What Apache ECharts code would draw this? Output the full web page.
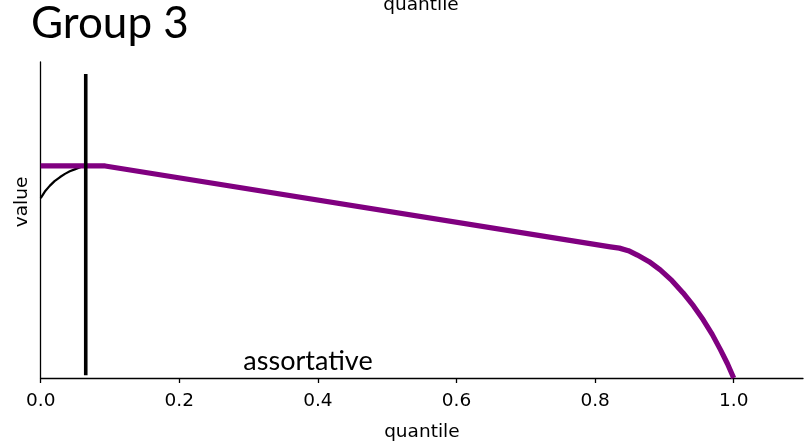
<!DOCTYPE html>
<html>
<head>
<meta charset="utf-8">
<script src="https://cdn.jsdelivr.net/npm/echarts@6/dist/echarts.min.js"></script>
<style>
  html, body { margin: 0; padding: 0; background: #fff; }
  #chart { width: 808px; height: 447px; }
</style>
</head>
<body>
<div id="chart"></div>
<script>
// Purple curve: [quantile, value]
const assortativeCurve = [
  [0.000, 0.671], [0.093, 0.671], [0.822, 0.415], [0.835, 0.411],
  [0.848, 0.403], [0.861, 0.389], [0.878, 0.368], [0.894, 0.342],
  [0.911, 0.308], [0.927, 0.269], [0.942, 0.228], [0.956, 0.184],
  [0.969, 0.138], [0.981, 0.089], [0.991, 0.045], [1.000, 0.000]
];
// Black rising curve near the origin
const baseCurve = [
  [0.000, 0.569], [0.006, 0.590], [0.013, 0.608], [0.020, 0.623],
  [0.028, 0.636], [0.035, 0.646], [0.042, 0.654], [0.050, 0.661],
  [0.057, 0.667], [0.065, 0.671]
];
// Vertical marker at the threshold quantile
const thresholdQuantile = 0.065;
const markerSpan = [0.009, 0.962];
// Axis ticks
const xTicks = [0.0, 0.2, 0.4, 0.6, 0.8, 1.0];

const chart = echarts.init(document.getElementById('chart'), null, { renderer: 'canvas' });

chart.setOption({
  animation: false,
  backgroundColor: '#ffffff',
  grid: { left: 40.7, right: 5, top: 62, bottom: 69, containLabel: false, outerBoundsMode: 'none' },
  xAxis: {
    type: 'value',
    min: 0,
    max: 1.1,
    interval: 0.2,
    name: 'quantile',
    nameLocation: 'middle',
    nameGap: 45,
    nameTextStyle: { fontFamily: 'DejaVu Sans', fontSize: 18.5, color: '#000' },
    axisLine: { show: true, onZero: false, lineStyle: { color: '#000', width: 1.3 } },
    axisTick: { show: true, inside: false, length: 5, customValues: xTicks, lineStyle: { color: '#000', width: 1.3 } },
    axisLabel: {
      customValues: xTicks,
      margin: 14,
      fontFamily: 'DejaVu Sans', fontSize: 18.5, color: '#000',
      formatter: v => v.toFixed(1)
    },
    splitLine: { show: false }
  },
  yAxis: {
    type: 'value',
    min: 0,
    max: 1,
    axisLine: { show: true, onZero: false, lineStyle: { color: '#000', width: 1.3 } },
    axisTick: { show: false },
    axisLabel: { show: false },
    splitLine: { show: false }
  },
  series: [
    {
      name: 'base',
      type: 'line',
      data: baseCurve,
      smooth: false,
      showSymbol: false,
      lineStyle: { color: '#000', width: 2.2 },
      z: 2
    },
    {
      name: 'assortative',
      type: 'line',
      data: assortativeCurve,
      smooth: false,
      showSymbol: false,
      lineStyle: { color: '#800080', width: 5.2, cap: 'butt', join: 'round' },
      z: 3
    },
    {
      name: 'threshold',
      type: 'line',
      data: [[thresholdQuantile, markerSpan[0]], [thresholdQuantile, markerSpan[1]]],
      showSymbol: false,
      lineStyle: { color: '#000', width: 3.6, cap: 'butt' },
      z: 4
    }
  ],
  graphic: [
    {
      type: 'text', left: 31, top: 2,
      style: { text: 'Group 3', fontFamily: 'Lato', fontSize: 44, fill: '#000' }
    },
    {
      type: 'text', x: 421, y: 15,
      style: { text: 'quantile', fontFamily: 'DejaVu Sans', fontSize: 18.5, fill: '#000', align: 'center', verticalAlign: 'bottom' }
    },
    {
      type: 'text', x: 308, y: 361,
      style: { text: 'assortative', fontFamily: 'Lato', fontSize: 27, fill: '#000', align: 'center', verticalAlign: 'middle' }
    },
    {
      type: 'text', x: 22, y: 202, rotation: Math.PI / 2,
      style: { text: 'value', fontFamily: 'DejaVu Sans', fontSize: 18.5, fill: '#000', align: 'center', verticalAlign: 'middle' }
    }
  ]
});
</script>
</body>
</html>
